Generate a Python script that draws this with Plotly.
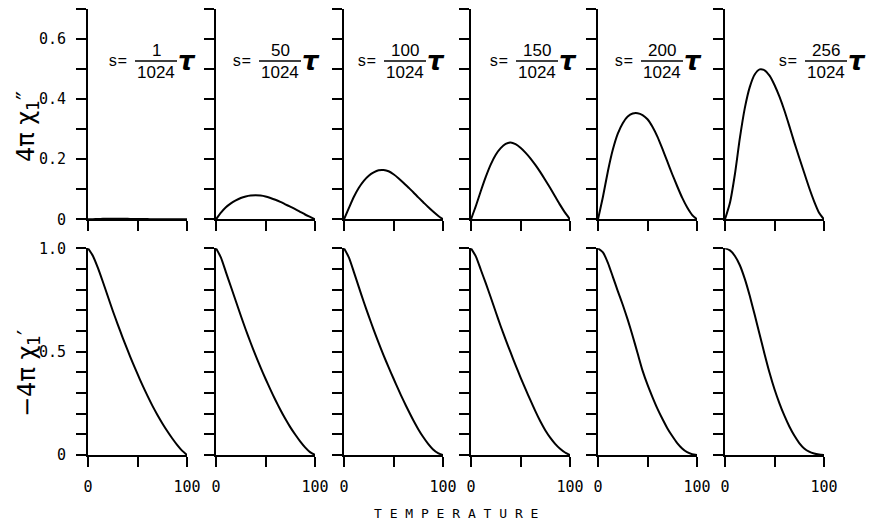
import plotly.graph_objects as go

# ---------------- data ----------------
temperature = [0, 5, 10, 15, 20, 25, 30, 35, 40, 45, 50, 55, 60, 65, 70, 75, 80, 85, 90, 95, 100]
s_numerators = [1, 50, 100, 150, 200, 256]
x_tick_labels = ["0", "", "100"]
chi2_tick_labels = ["0", "", "0.2", "", "0.4", "", "0.6", ""]
chi1_tick_labels = ["0", "", "", "", "", "0.5", "", "", "", "", "1.0"]

# 4*pi*chi'' (top row)
chi2_s1 = [0, 0.0005, 0.001, 0.0015, 0.002, 0.002, 0.002, 0.0018, 0.0015, 0.0012, 0.001,
           0.0008, 0.0006, 0.0004, 0.0003, 0.0002, 0.0001, 0.0001, 0, 0, 0]
chi2_s50 = [0, 0.022, 0.040, 0.053, 0.063, 0.071, 0.076, 0.079, 0.080, 0.079, 0.076,
            0.071, 0.065, 0.058, 0.050, 0.042, 0.034, 0.025, 0.016, 0.008, 0]
chi2_s100 = [0, 0.038, 0.075, 0.105, 0.128, 0.145, 0.156, 0.163, 0.164, 0.160, 0.150,
             0.137, 0.122, 0.106, 0.090, 0.073, 0.057, 0.041, 0.026, 0.012, 0]
chi2_s150 = [0, 0.045, 0.095, 0.142, 0.183, 0.215, 0.237, 0.251, 0.256, 0.250, 0.238,
             0.222, 0.203, 0.181, 0.157, 0.131, 0.104, 0.076, 0.048, 0.022, 0]
chi2_s200 = [0, 0.075, 0.160, 0.232, 0.285, 0.320, 0.342, 0.352, 0.353, 0.347, 0.333,
             0.308, 0.275, 0.235, 0.193, 0.150, 0.110, 0.072, 0.040, 0.015, 0]
chi2_s256 = [0, 0.055, 0.150, 0.270, 0.370, 0.440, 0.482, 0.499, 0.496, 0.478, 0.447,
             0.408, 0.362, 0.310, 0.256, 0.205, 0.155, 0.105, 0.060, 0.022, 0]

# -4*pi*chi' (bottom row)
chi1_s1 = [1.0, 0.963, 0.905, 0.838, 0.768, 0.698, 0.632, 0.568, 0.507, 0.448, 0.392,
           0.338, 0.287, 0.239, 0.195, 0.154, 0.116, 0.081, 0.049, 0.021, 0]
chi1_s50 = [1.0, 0.955, 0.885, 0.815, 0.745, 0.675, 0.607, 0.543, 0.482, 0.424, 0.369,
            0.316, 0.266, 0.219, 0.175, 0.135, 0.099, 0.066, 0.037, 0.014, 0]
chi1_s100 = [1.0, 0.955, 0.885, 0.812, 0.74, 0.672, 0.605, 0.542, 0.482, 0.425, 0.37,
             0.316, 0.264, 0.215, 0.168, 0.125, 0.087, 0.054, 0.027, 0.009, 0]
chi1_s150 = [1.0, 0.96, 0.895, 0.83, 0.762, 0.692, 0.623, 0.558, 0.496, 0.435, 0.376,
             0.32, 0.265, 0.212, 0.163, 0.12, 0.084, 0.054, 0.03, 0.012, 0]
chi1_s200 = [1.0, 0.98, 0.93, 0.862, 0.793, 0.727, 0.655, 0.576, 0.492, 0.408, 0.34,
             0.28, 0.224, 0.175, 0.13, 0.092, 0.058, 0.032, 0.014, 0.004, 0]
chi1_s256 = [1.0, 0.99, 0.963, 0.918, 0.852, 0.77, 0.678, 0.583, 0.488, 0.398, 0.318,
             0.25, 0.19, 0.138, 0.094, 0.058, 0.032, 0.016, 0.007, 0.002, 0]

chi2_series = [chi2_s1, chi2_s50, chi2_s100, chi2_s150, chi2_s200, chi2_s256]
chi1_series = [chi1_s1, chi1_s50, chi1_s100, chi1_s150, chi1_s200, chi1_s256]

# ---------------- layout helpers (page pixel -> paper fraction) ----------------
PAGE_W, PAGE_H = 874, 529
OFF = 8                      # default body margin of the page
W, H = PAGE_W - 2 * OFF, PAGE_H - 2 * OFF


def px2x(px):
    return (px - OFF) / W


def py2y(py):
    return 1 - (py - OFF) / H


panel_left_px = [88, 216, 344, 471, 598, 725]
panel_width_px = 99
label_s_px = [29, 25, 22, 27, 25, 62]   # offset of "s=" from panel left, px

top_dom = [py2y(219.3), py2y(9)]
bot_dom = [py2y(455), py2y(248.3)]

TICKFONT = dict(family="DejaVu Sans Mono", size=15, color="black")
NUMFONT = dict(family="Liberation Sans", size=17, color="black")

fig = go.Figure()
layout = dict(
    width=W, height=H, margin=dict(l=0, r=0, t=0, b=0, autoexpand=False),
    paper_bgcolor="white", plot_bgcolor="white", showlegend=False,
)
annotations = []
shapes = []


def ax_common():
    return dict(showline=True, linewidth=2, linecolor="black", ticks="outside",
                ticklen=10, tickwidth=2, tickcolor="black", showgrid=False,
                zeroline=False, tickfont=TICKFONT, fixedrange=True, automargin=False)


for c in range(6):
    x0 = px2x(panel_left_px[c])
    x1 = px2x(panel_left_px[c] + panel_width_px)
    for row, series, dom, yr, ydtick, ylabels in (
        (0, chi2_series, top_dom, [0, 0.7], 0.1, chi2_tick_labels),
        (1, chi1_series, bot_dom, [0, 1.0], 0.1, chi1_tick_labels),
    ):
        k = c + 1 + 6 * row
        xa = ax_common()
        xa.update(domain=[x0, x1], range=[0, 100], anchor=f"y{k}",
                  tickvals=[0, 50, 100],
                  ticktext=x_tick_labels if row == 1 else ["", "", ""],
                  ticklabelstandoff=7)
        nt = len(ylabels)
        ya = ax_common()
        ya.update(domain=dom, range=yr, anchor=f"x{k}",
                  tickvals=[round(i * ydtick, 2) for i in range(nt)],
                  ticktext=ylabels if c == 0 else [""] * nt,
                  ticklabelstandoff=7)
        layout[f"xaxis{k}"] = xa
        layout[f"yaxis{k}"] = ya
        fig.add_trace(go.Scatter(
            x=temperature, y=series[c], mode="lines",
            line=dict(color="black", width=2, shape="spline", smoothing=0.6),
            xaxis=f"x{k}", yaxis=f"y{k}", cliponaxis=False, hoverinfo="skip"))

    # label  s = n/1024 tau
    ps = panel_left_px[c] + label_s_px[c]
    pf = ps + 39
    pt = pf + 31
    annotations += [
        dict(x=px2x(ps), y=py2y(62), text="s=",
             font=dict(family="Liberation Mono", size=16, color="black")),
        dict(x=px2x(pf), y=py2y(51), text=str(s_numerators[c]), font=NUMFONT),
        dict(x=px2x(pf), y=py2y(72), text="1024", font=NUMFONT),
        dict(x=px2x(pt), y=py2y(61), text="<b><i>τ</i></b>",
             font=dict(family="DejaVu Sans", size=26, color="black")),
    ]
    shapes.append(dict(type="line", xref="paper", yref="paper",
                       x0=px2x(pf - 21), x1=px2x(pf + 21), y0=py2y(61), y1=py2y(61),
                       line=dict(color="black", width=1.5)))

annotations += [
    dict(x=px2x(28), y=py2y(127), textangle=-90,
         text="4π χ<sub>1</sub>″",
         font=dict(family="DejaVu Sans", size=24, color="black")),
    dict(x=px2x(28), y=py2y(374), textangle=-90,
         text="−4π χ<sub>1</sub>′",
         font=dict(family="DejaVu Sans", size=24, color="black")),
    dict(x=px2x(456), y=py2y(513),
         text=" ".join("TEMPERATURE"),
         font=dict(family="DejaVu Sans Mono", size=13, color="black")),
]
for a in annotations:
    a.update(xref="paper", yref="paper", showarrow=False,
             xanchor="center", yanchor="middle")
layout["annotations"] = annotations
layout["shapes"] = shapes
fig.update_layout(**layout)
fig.write_html("out.html", config={"displayModeBar": False})
